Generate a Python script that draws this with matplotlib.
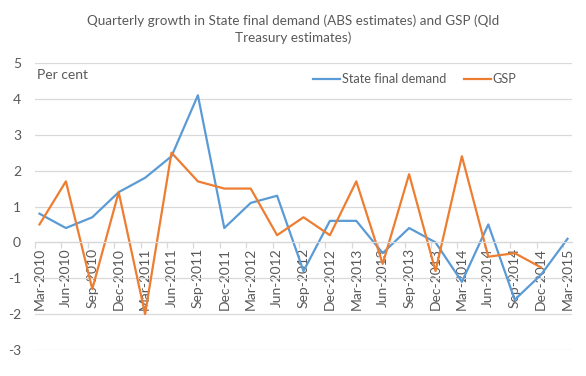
import numpy as np
import matplotlib
matplotlib.use('Agg')
from matplotlib import pyplot

# Data #
quarters = ['Mar-2010', 'Jun-2010', 'Sep-2010', 'Dec-2010',
            'Mar-2011', 'Jun-2011', 'Sep-2011', 'Dec-2011',
            'Mar-2012', 'Jun-2012', 'Sep-2012', 'Dec-2012',
            'Mar-2013', 'Jun-2013', 'Sep-2013', 'Dec-2013',
            'Mar-2014', 'Jun-2014', 'Sep-2014', 'Dec-2014',
            'Mar-2015']
state_final_demand = [0.8, 0.4, 0.7, 1.4, 1.8, 2.4, 4.1, 0.4, 1.1, 1.3, -0.8,
                      0.6, 0.6, -0.3, 0.4, 0.0, -1.1, 0.5, -1.6, -0.9, 0.1]
gsp = [0.5, 1.7, -1.3, 1.4, -2.0, 2.5, 1.7, 1.5, 1.5, 0.2, 0.7,
       0.2, 1.7, -0.6, 1.9, -0.8, 2.4, -0.4, -0.3, -0.7]
y_ticks = [-3, -2, -1, 0, 1, 2, 3, 4, 5]

# Style #
blue   = '#5b9bd5'
orange = '#ed7d31'
grey   = '#595959'
grid   = '#d9d9d9'
pyplot.rcParams['font.family'] = ['Lato', 'DejaVu Sans']
pyplot.rcParams['axes.unicode_minus'] = False

################################################################################
fig = pyplot.figure(figsize=(5.86, 3.76), dpi=100)
axes = fig.add_axes([35/586, 1-350/376, (572-35)/586, (350-63)/376])

x = np.arange(len(quarters))
axes.plot(x, state_final_demand, color=blue, lw=1.6, label='State final demand')
axes.plot(x[:len(gsp)], gsp, color=orange, lw=1.6, label='GSP')

# Axes #
axes.set_ylim(-3, 5)
axes.set_xlim(-0.17, len(quarters) - 1 + 0.17)
axes.set_yticks(y_ticks)
axes.yaxis.grid(True, color=grid, lw=0.9)
axes.set_axisbelow(True)
for side in ('top', 'right', 'left'): axes.spines[side].set_visible(False)
axes.spines['bottom'].set_position(('data', 0))
axes.spines['bottom'].set_color(grid)
axes.spines['bottom'].set_linewidth(0.9)
axes.tick_params(axis='y', length=0, pad=10, labelsize=10, labelcolor=grey)
axes.set_xticks(x)
axes.set_xticklabels(quarters, rotation=90)
axes.tick_params(axis='x', which='major', length=0, pad=4, labelsize=10, labelcolor=grey)
axes.set_xticks(np.arange(len(quarters)) - 0.17, minor=True)
axes.tick_params(axis='x', which='minor', length=4, width=0.9, color=grid, direction='out')

# Texts #
fig.text(0.5, 1-29.5/376, 'Quarterly growth in State final demand (ABS estimates) and GSP (Qld\nTreasury estimates)',
         ha='center', va='center', fontsize=9.7, color=grey, linespacing=1.45)
fig.text(37/586, 1-75/376, 'Per cent', ha='left', va='center', fontsize=10, color=grey)
axes.legend(loc='center left', bbox_to_anchor=(313/586, 1-79/376), bbox_transform=fig.transFigure,
            ncol=2, frameon=False, fontsize=9.2, labelcolor=grey, borderpad=0, borderaxespad=0,
            handlelength=2.1, handletextpad=0.15, columnspacing=1.4)

fig.savefig('out.png', dpi=100)
pyplot.close(fig)
